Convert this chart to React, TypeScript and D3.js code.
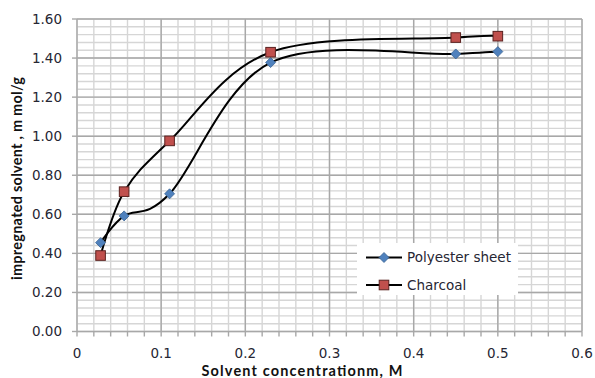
import React, { useEffect, useRef } from 'react';
import * as d3 from 'd3';

// concentration (M)
const concentrations = [0.028, 0.056, 0.11, 0.23, 0.45, 0.5];
// impregnated solvent (m mol/g)
const polyesterValues = [0.455, 0.592, 0.705, 1.377, 1.421, 1.433];
const charcoalValues = [0.389, 0.716, 0.976, 1.43, 1.505, 1.512];

const seriesNames = ['Polyester sheet', 'Charcoal'];
const xTicks = [0, 0.1, 0.2, 0.3, 0.4, 0.5, 0.6];
const yTicks = [0, 0.2, 0.4, 0.6, 0.8, 1.0, 1.2, 1.4, 1.6];

const W = 595;
const H = 378;

function App() {
  const svgRef = useRef<SVGSVGElement>(null);

  useEffect(() => {
    const svg = d3.select(svgRef.current);
    svg.selectAll('*').remove();

    const x = d3.scaleLinear().domain([0, 0.6]).range([77, 582]);
    const y = d3.scaleLinear().domain([0, 1.6]).range([331.5, 19]);

    const g = svg.append('g');

    // minor grid
    const xMinor = d3.range(0, 0.6001, 0.02);
    const yMinor = d3.range(0, 1.6001, 0.04);
    g.selectAll('.xminor').data(xMinor).enter().append('line')
      .attr('x1', d => x(d)).attr('x2', d => x(d))
      .attr('y1', y(0)).attr('y2', y(1.6))
      .attr('stroke', '#d6d6d6').attr('stroke-width', 1.4);
    g.selectAll('.yminor').data(yMinor).enter().append('line')
      .attr('x1', x(0)).attr('x2', x(0.6))
      .attr('y1', d => y(d)).attr('y2', d => y(d))
      .attr('stroke', '#d6d6d6').attr('stroke-width', 1.4);

    // major grid
    g.selectAll('.xmajor').data(xTicks).enter().append('line')
      .attr('x1', d => x(d)).attr('x2', d => x(d))
      .attr('y1', y(0)).attr('y2', y(1.6))
      .attr('stroke', '#a8a8a8').attr('stroke-width', 1.4);
    g.selectAll('.ymajor').data(yTicks).enter().append('line')
      .attr('x1', x(0)).attr('x2', x(0.6))
      .attr('y1', d => y(d)).attr('y2', d => y(d))
      .attr('stroke', '#a8a8a8').attr('stroke-width', 1.4);

    // tick marks
    g.selectAll('.xtick').data(xMinor).enter().append('line')
      .attr('x1', d => x(d)).attr('x2', d => x(d))
      .attr('y1', y(0)).attr('y2', y(0) + 5)
      .attr('stroke', '#a8a8a8').attr('stroke-width', 1.4);
    g.selectAll('.ytick').data(yTicks).enter().append('line')
      .attr('x1', x(0) - 5).attr('x2', x(0))
      .attr('y1', d => y(d)).attr('y2', d => y(d))
      .attr('stroke', '#a8a8a8').attr('stroke-width', 1.4);

    // tick labels
    g.selectAll('.xlab').data(xTicks).enter().append('text')
      .attr('x', d => x(d)).attr('y', 358)
      .attr('text-anchor', 'middle')
      .attr('font-family', '"DejaVu Sans", Verdana, sans-serif')
      .attr('font-size', 13.5).attr('fill', '#262633')
      .text(d => (d === 0 ? '0' : d3.format('.1f')(d)));
    g.selectAll('.ylab').data(yTicks).enter().append('text')
      .attr('x', 62).attr('y', d => y(d)).attr('dy', '0.36em')
      .attr('text-anchor', 'end')
      .attr('font-family', '"DejaVu Sans", Verdana, sans-serif')
      .attr('font-size', 13.5).attr('fill', '#262633')
      .text(d => d3.format('.2f')(d));

    // axis titles
    g.append('text')
      .attr('x', 302).attr('y', 375.5)
      .attr('text-anchor', 'middle')
      .attr('font-family', 'Lato, "Open Sans", sans-serif')
      .attr('font-weight', 'bold').attr('font-size', 14.5).attr('fill', '#111')
      .attr('textLength', 201).attr('lengthAdjust', 'spacing')
      .text('Solvent concentrationm, M');
    g.append('text')
      .attr('transform', 'translate(21.5,178.5) rotate(-90)')
      .attr('text-anchor', 'middle')
      .attr('font-family', 'Lato, "Open Sans", sans-serif')
      .attr('font-weight', 'bold').attr('font-size', 14.5).attr('fill', '#111')
      .attr('textLength', 203).attr('lengthAdjust', 'spacing')
      .text('impregnated solvent , m mol/g');

    const line = d3.line<number>()
      .x((_, i) => x(concentrations[i]))
      .y(d => y(d))
      .curve(d3.curveCardinal.tension(0));

    const series = [
      { name: seriesNames[0], values: polyesterValues, shape: 'diamond' },
      { name: seriesNames[1], values: charcoalValues, shape: 'square' }
    ];

    const drawMarker = (sel: any, shape: string, cx: number, cy: number) => {
      if (shape === 'diamond') {
        const s = 5;
        sel.append('path')
          .attr('d', `M${cx},${cy - s}L${cx + s},${cy}L${cx},${cy + s}L${cx - s},${cy}Z`)
          .attr('fill', '#4f81bd').attr('stroke', '#3a6393').attr('stroke-width', 0.8);
      } else {
        const s = 4.8;
        sel.append('rect')
          .attr('x', cx - s).attr('y', cy - s)
          .attr('width', 2 * s).attr('height', 2 * s)
          .attr('fill', '#c0504d').attr('stroke', '#5a2220').attr('stroke-width', 1);
      }
    };

    series.forEach(s => {
      g.append('path')
        .attr('d', line(s.values))
        .attr('fill', 'none').attr('stroke', '#000').attr('stroke-width', 2);
    });
    series.forEach(s => {
      s.values.forEach((v, i) => drawMarker(g, s.shape, x(concentrations[i]), y(v)));
    });

    // legend
    const lg = g.append('g');
    lg.append('rect')
      .attr('x', 357).attr('y', 243).attr('width', 161).attr('height', 52)
      .attr('fill', '#fff');
    series.forEach((s, i) => {
      const ly = 257.5 + i * 27.5;
      lg.append('line')
        .attr('x1', 366).attr('x2', 402).attr('y1', ly).attr('y2', ly)
        .attr('stroke', '#000').attr('stroke-width', 2);
      drawMarker(lg, s.shape, 384, ly);
      lg.append('text')
        .attr('x', 407).attr('y', ly).attr('dy', '0.36em')
        .attr('font-family', '"DejaVu Sans", Verdana, sans-serif')
        .attr('font-size', 13.5).attr('fill', '#262633')
        .text(s.name);
    });
  }, []);

  return (
    <svg
      ref={svgRef}
      width={W}
      height={H}
      style={{ position: 'absolute', left: 0, top: 0, background: '#fff' }}
    />
  );
}

export default App;
